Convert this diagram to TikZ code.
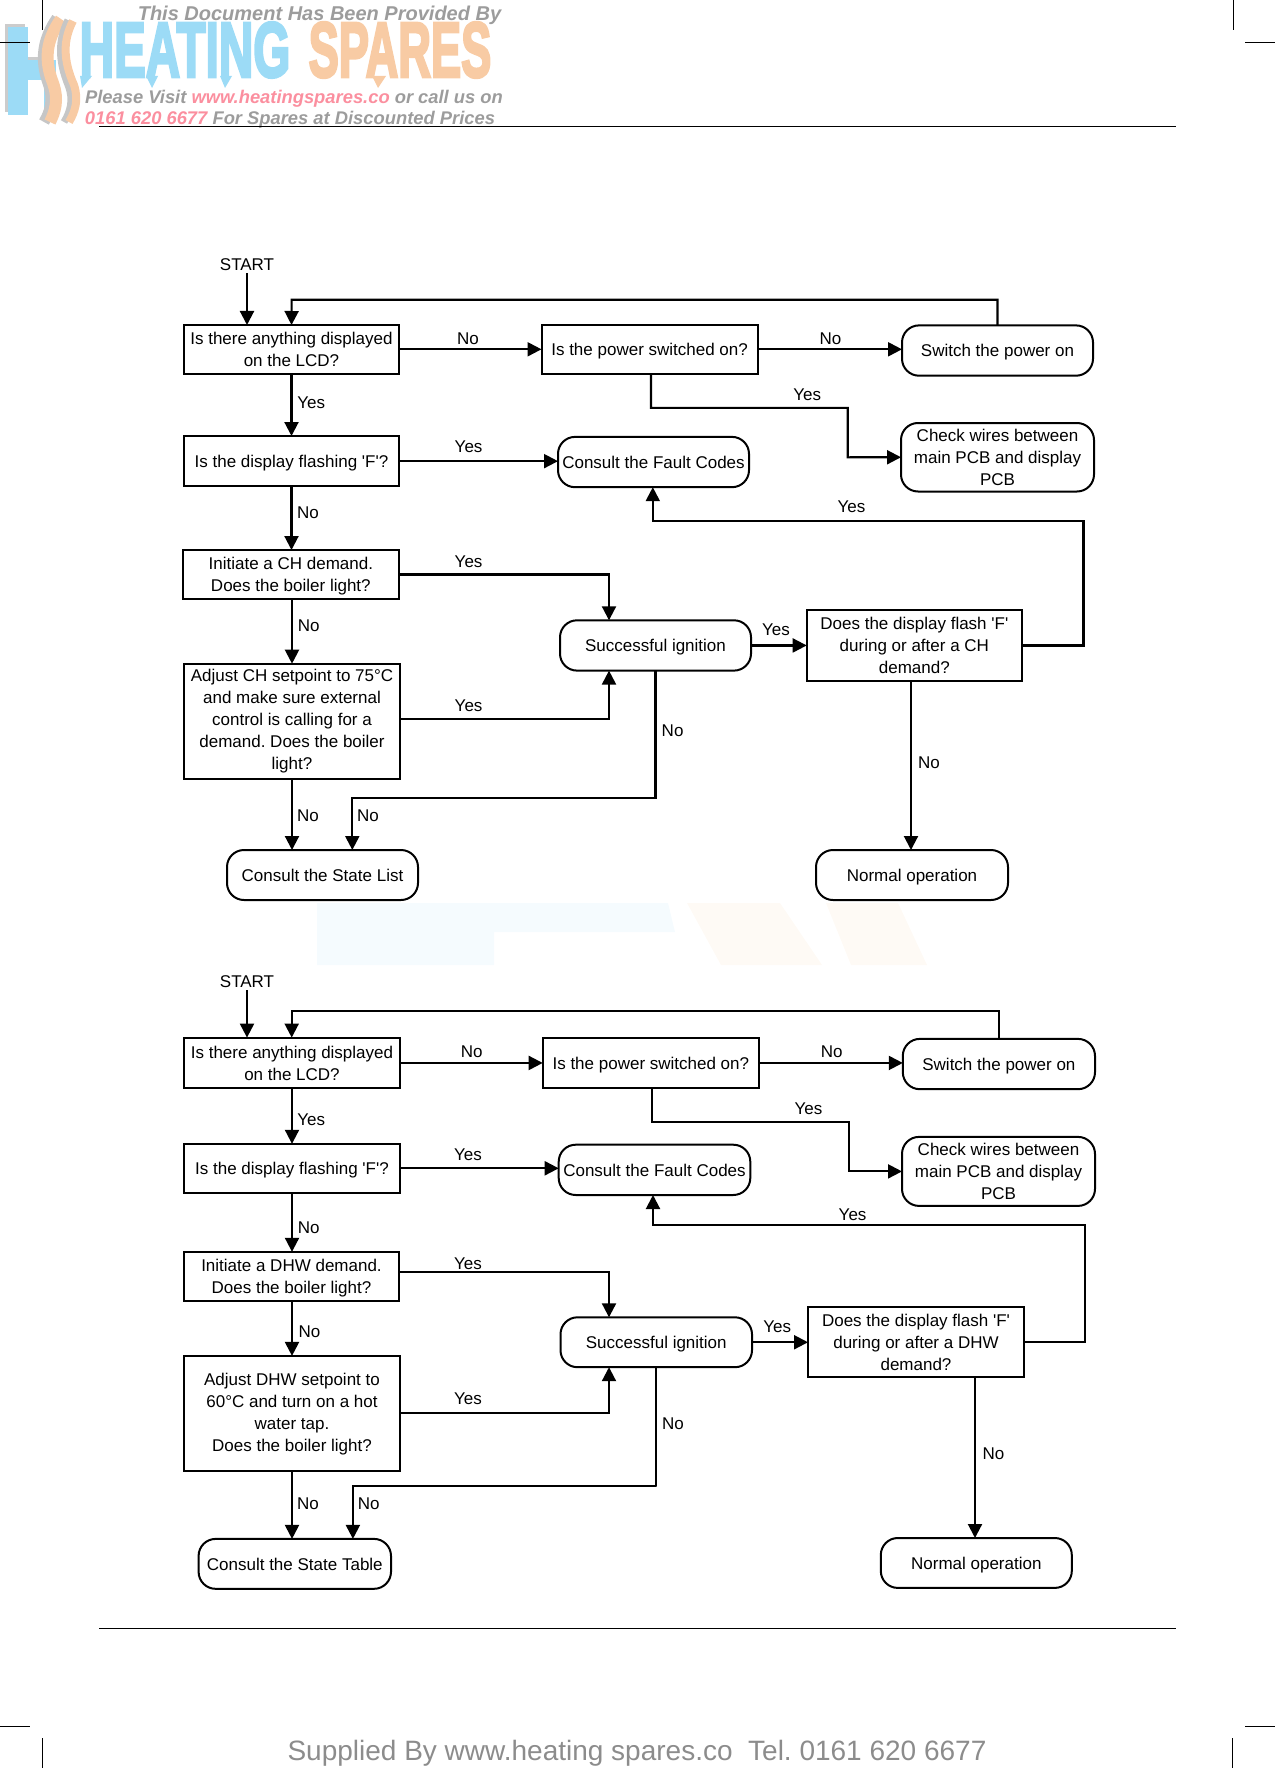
\documentclass[tikz,border=0pt]{standalone}
\usepackage{fontspec}
\usepackage{graphicx}
\setmainfont{Liberation Sans}
\newfontfamily\chartfont{Liberation Sans}
\newfontfamily\logofont{Liberation Sans Bold}[FakeBold=4]
\usetikzlibrary{arrows.meta,calc}
\definecolor{logoblue}{HTML}{9CDBF6}
\definecolor{logoorange}{HTML}{F8CBA4}
\definecolor{logogrey}{HTML}{9C9C9C}
\definecolor{logopink}{HTML}{FB8F9F}
\definecolor{footgrey}{HTML}{8C8C8C}
\definecolor{ghostblue}{HTML}{F5FBFE}
\definecolor{ghostorange}{HTML}{FEFAF5}
\frenchspacing
\tikzset{
  base/.style={draw=black,line width=2pt,align=center,inner sep=0pt,outer sep=0pt,font=\chartfont\fontsize{17}{22}\selectfont},
  squarebox/.style={base},
  roundbox/.style={base,rounded corners=17pt},
  lbl/.style={inner sep=0pt,font=\chartfont\fontsize{17}{22}\selectfont},
  flow/.style={line width=2.1pt,-{Triangle[length=14pt,width=14pt]}},
  rule/.style={line width=1.9pt,black},
  crop/.style={line width=1pt,black},
  wmark/.style={inner sep=0pt,font=\bfseries\itshape\fontsize{18.35}{22}\selectfont,text=logogrey},
  wpale/.style={inner sep=0pt,font=\logofont\fontsize{78}{78}\selectfont}
}
\newcommand{\bx}[7]{%
  \pgfmathsetmacro{\cxx}{(#3+#5)/2}\pgfmathsetmacro{\cyy}{(#4+#6)/2}%
  \pgfmathsetmacro{\wdd}{#5-#3}\pgfmathsetmacro{\htt}{#6-#4}%
  \node[#2,minimum width=\wdd pt,minimum height=\htt pt] (#1) at (\cxx,\cyy) {\rule{0pt}{16.5pt}#7\rule[-4pt]{0pt}{4pt}};}
\newcommand{\tx}[4]{\node[lbl] (#1) at (#2,#3) {#4};}
\begin{document}
\begin{tikzpicture}[x=1pt,y=-1pt]
\useasboundingbox (0,0) rectangle (1275,1768);
% faint ghost of the logo
\fill[ghostblue] (317,903) -- (668,903) -- (675,932) -- (494,932) -- (494,965) -- (317,965) -- cycle;
\fill[ghostorange] (687,903) -- (780,903) -- (822,965) -- (721,965) -- cycle;
\fill[ghostorange] (826,903) -- (898,903) -- (927,965) -- (851,965) -- cycle;
% logo
\fill[gray!40] (5,24) rectangle (25,112);
\fill[gray!40] (25,57) rectangle (50,80);
\fill[logoblue] (8,27) rectangle (28,115);
\fill[logoblue] (28,60) rectangle (45,80);
\fill[logoblue] (44,60) rectangle (56,115);
\draw[gray!45,line width=11pt] (57,18) .. controls (42,40) and (40,60) .. (48,83) .. controls (54,100) and (50,112) .. (44,122);
\draw[logoorange,line width=12pt] (61,19) .. controls (46,40) and (44,60) .. (53,83) .. controls (59,100) and (55,112) .. (50,122);
\draw[gray!45,line width=7pt] (68,20) .. controls (58,40) and (58,60) .. (68,85) .. controls (74,100) and (70,112) .. (64,122);
\draw[logoorange,line width=8pt] (73,21) .. controls (63,40) and (63,60) .. (74,85) .. controls (79,100) and (75,112) .. (69,122);
\fill[logoblue] (80,76) -- (92,76) -- (82,88) -- cycle;
\fill[logoblue] (146,76) -- (158,76) -- (152,88) -- cycle;
\fill[logoblue] (220,76) -- (232,76) -- (225,88) -- cycle;
\fill[logoorange] (372,76) -- (386,76) -- (378,88) -- cycle;
\node[wpale,text=logoblue,anchor=center] (heat) at (185,50) {\scalebox{0.61}[1]{HEATING}};
\node[wpale,text=logoorange,anchor=center] (spar) at (400,50) {\scalebox{0.58}[1]{SPARES}};
\node[wmark,font=\bfseries\itshape\fontsize{20}{22}\selectfont] (w1) at (319.5,15) {This Document Has Been Provided By};
\node[wmark] (w2) at (294,99) {Please Visit \textcolor{logopink}{www.heatingspares.co} or call us on};
\node[wmark] (w3) at (290,120) {\textcolor{logopink}{0161 620 6677} For Spares at Discounted Prices};
% page furniture
\draw[rule] (99,126.5) -- (1175.6,126.5);
\draw[rule] (99,1628.5) -- (1175.6,1628.5);
\draw[crop] (42.5,0) -- (42.5,30);
\draw[crop] (0,42.3) -- (30,42.3);
\draw[crop] (1233,0) -- (1233,30);
\draw[crop] (1245,42.3) -- (1275,42.3);
\draw[crop] (0,1726.7) -- (30,1726.7);
\draw[crop] (1245,1726.7) -- (1275,1726.7);
\draw[crop] (42.5,1738) -- (42.5,1768);
\draw[crop] (1232.5,1738) -- (1232.5,1768);
\node[inner sep=0pt,text=footgrey,font=\fontsize{28}{30}\selectfont] (foot) at (637,1753) {Supplied By www.heating spares.co\ \ Tel. 0161 620 6677};

% ===== upper chart =====
\node[lbl,inner sep=2pt] (S1) at (247,265) {START};
\bx{A1}{squarebox}{184}{325}{399}{373.6}{Is there anything displayed\\on the LCD?}
\bx{P1}{squarebox}{541.5}{325}{757.7}{373.6}{Is the power switched on?}
\bx{W1}{roundbox}{902}{325.4}{1093}{375.7}{Switch the power on}
\bx{B1}{squarebox}{184}{436}{399}{486.3}{Is the display flashing 'F'?}
\bx{F1}{roundbox}{558}{436.9}{749}{487.2}{Consult the Fault Codes}
\bx{C1}{roundbox}{901}{423}{1094}{491.5}{Check wires between\\main PCB and display\\PCB}
\bx{I1}{squarebox}{182.7}{550}{399}{599}{Initiate a CH demand.\\Does the boiler light?}
\bx{G1}{roundbox}{560}{620.3}{751}{670.6}{Successful ignition}
\bx{D1}{squarebox}{806.7}{610}{1022}{681}{Does the display flash 'F'\\during or after a CH\\demand?}
\bx{J1}{squarebox}{184}{663.7}{400}{779}{Adjust CH setpoint to 75°C\\and make sure external\\control is calling for a\\demand. Does the boiler\\light?\rule[-8pt]{0pt}{8pt}}
\bx{L1}{roundbox}{227}{850}{418}{900}{Consult the State List}
\bx{N1}{roundbox}{816}{850}{1008}{900}{Normal operation}
\coordinate (a1) at (291.7,299.8);
\coordinate (b1) at (651,407.8);
\coordinate (c1) at (847.7,457.3);
\coordinate (d1) at (1083.5,521.4);
\coordinate (e1) at (652.8,487.2);
\coordinate (f1) at (609,620.3);
\coordinate (g1) at (609,670.6);
\coordinate (h1) at (655.4,797.7);
\coordinate (k1) at (352.3,850);
\coordinate (m1) at (651,373.6);
\coordinate (o1) at (911,850);
\coordinate (q1) at (400,719.3);
\draw[flow] (S1.south) -- (S1.south |- A1.north);
\draw[flow] (W1.north) |- (a1) -- (A1.north);
\draw[flow] (A1.east) -- (A1.east -| P1.west);
\draw[flow] (P1.east) -- (P1.east -| W1.west);
\draw[flow] (A1.south) -- (B1.north);
\draw[flow] (B1.east) -- (B1.east -| F1.west);
\draw[flow] (m1) -- (b1) -| (c1) -- (C1.west);
\draw[flow] (B1.south) -- (B1.south |- I1.north);
\draw[flow] (I1.east) -| (f1);
\draw[flow] (I1.south -| J1.north) -- (J1.north);
\draw[flow] (q1) -| (g1);
\draw[flow] (G1.east) -- (G1.east -| D1.west);
\draw[flow] (D1.east) -| (d1) -| (e1);
\draw[flow] (G1.south) |- (h1) -| (k1);
\draw[flow] (J1.south) -- (J1.south |- L1.north);
\draw[flow] (o1 |- D1.south) -- (o1);
\tx{l1}{468}{338.4}{No}
\tx{l2}{830.5}{338.4}{No}
\tx{l3}{807.3}{394.8}{Yes}
\tx{l4}{311.3}{402.6}{Yes}
\tx{l5}{468.6}{446.9}{Yes}
\tx{l6}{308}{512.3}{No}
\tx{l7}{851.4}{507}{Yes}
\tx{l8}{468.6}{561.8}{Yes}
\tx{l9}{308.8}{626}{No}
\tx{l10}{776}{629.8}{Yes}
\tx{l11}{672.6}{730.9}{No}
\tx{l12}{468.6}{706.2}{Yes}
\tx{l13}{929}{762.6}{No}
\tx{l14}{308}{815.5}{No}
\tx{l15}{368}{815.5}{No}

% ===== lower chart =====
\node[lbl,inner sep=2pt] (S2) at (247,982) {START};
\bx{A2}{squarebox}{184}{1037.6}{400}{1088.3}{Is there anything displayed\\on the LCD?}
\bx{P2}{squarebox}{542.7}{1037.6}{759}{1088.3}{Is the power switched on?}
\bx{W2}{roundbox}{902.8}{1038.9}{1095}{1089.2}{Switch the power on}
\bx{B2}{squarebox}{184}{1143.8}{400}{1192.8}{Is the display flashing 'F'?}
\bx{F2}{roundbox}{558.7}{1144.7}{750.3}{1195}{Consult the Fault Codes}
\bx{C2}{roundbox}{902}{1136.9}{1095}{1205.9}{Check wires between\\main PCB and display\\PCB}
\bx{I2}{squarebox}{184}{1251.8}{399}{1300.8}{Initiate a DHW demand.\\Does the boiler light?}
\bx{G2}{roundbox}{560.5}{1317.3}{752}{1367.2}{Successful ignition}
\bx{D2}{squarebox}{808}{1306.9}{1024}{1376.7}{Does the display flash 'F'\\during or after a DHW\\demand?}
\bx{J2}{squarebox}{184}{1355.9}{400}{1470.8}{Adjust DHW setpoint to\\60°C and turn on a hot\\water tap.\\Does the boiler light?\rule[-6pt]{0pt}{6pt}}
\bx{L2}{roundbox}{198.6}{1538.9}{391}{1588.8}{Consult the State Table}
\bx{N2}{roundbox}{880.8}{1538}{1071.8}{1587.9}{Normal operation}
\coordinate (a2) at (291.7,1011.1);
\coordinate (b2) at (652.3,1121.7);
\coordinate (c2) at (848.9,1171.4);
\coordinate (d2) at (1084.7,1224.9);
\coordinate (e2) at (653,1195);
\coordinate (f2) at (609,1317.3);
\coordinate (g2) at (609,1367.2);
\coordinate (h2) at (656.6,1486);
\coordinate (k2) at (352.9,1538.9);
\coordinate (m2) at (652.3,1088.3);
\coordinate (o2) at (975,1538);
\coordinate (q2) at (399,1271.6);
\draw[flow] (S2.south) -- (S2.south |- A2.north);
\draw[flow] (W2.north) |- (a2) -- (a2 |- A2.north);
\draw[flow] (A2.east) -- (A2.east -| P2.west);
\draw[flow] (P2.east) -- (P2.east -| W2.west);
\draw[flow] (A2.south) -- (B2.north);
\draw[flow] (B2.east) -- (B2.east -| F2.west);
\draw[flow] (m2) -- (b2) -| (c2) -- (C2.west);
\draw[flow] (B2.south) -- (B2.south |- I2.north);
\draw[flow] (q2) -| (f2);
\draw[flow] (I2.south -| J2.north) -- (J2.north);
\draw[flow] (J2.east) -| (g2);
\draw[flow] (G2.east) -- (G2.east -| D2.west);
\draw[flow] (D2.east) -| (d2) -| (e2);
\draw[flow] (G2.south) |- (h2) -| (k2);
\draw[flow] (J2.south) -- (J2.south |- L2.north);
\draw[flow] (o2 |- D2.south) -- (o2);
\tx{n1}{471.7}{1051.5}{No}
\tx{n2}{831.8}{1051.5}{No}
\tx{n3}{808.5}{1108.3}{Yes}
\tx{n4}{311.3}{1120}{Yes}
\tx{n5}{468}{1154.7}{Yes}
\tx{n6}{308.8}{1227.5}{No}
\tx{n7}{852.6}{1215}{Yes}
\tx{n8}{468}{1263.5}{Yes}
\tx{n9}{309.4}{1332}{No}
\tx{n10}{777.3}{1326.8}{Yes}
\tx{n11}{673}{1423.5}{No}
\tx{n12}{468}{1398.8}{Yes}
\tx{n13}{993.4}{1453.9}{No}
\tx{n14}{308}{1503.8}{No}
\tx{n15}{368.8}{1503.8}{No}
\end{tikzpicture}
\end{document}
